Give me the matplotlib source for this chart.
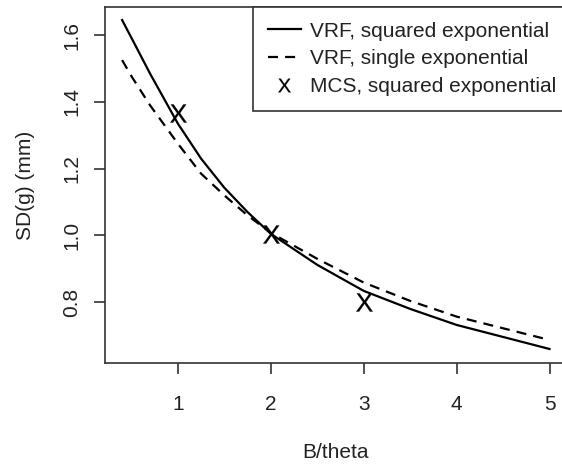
import numpy as np
import matplotlib
matplotlib.use("Agg")
import matplotlib.pyplot as plt

plt.rcParams['font.family'] = ['Liberation Sans', 'DejaVu Sans']
plt.rcParams['mathtext.fontset'] = 'custom'
plt.rcParams['mathtext.rm'] = 'Liberation Sans'

# VRF curves, SD(g) vs B/theta
x_vrf = [0.4, 0.5, 0.7, 1.0, 1.25, 1.5, 1.75, 2.0, 2.5, 3.0, 3.5, 4.0, 5.0]
sd_sq = [1.645, 1.592, 1.485, 1.335, 1.23, 1.143, 1.07, 1.005, 0.912, 0.834, 0.78, 0.732, 0.66]
sd_single = [1.525, 1.477, 1.39, 1.275, 1.185, 1.12, 1.06, 1.008, 0.93, 0.859, 0.804, 0.757, 0.687]

# Monte Carlo points
x_mcs = [1, 2, 3]
sd_mcs = [1.366, 1.004, 0.801]

W, H = 562, 465
fig = plt.figure(figsize=(W / 100, H / 100), dpi=100)
ax = fig.add_axes([105 / W, (H - 363) / H, 461.6 / W, 356 / H])

ax.plot(x_vrf, sd_sq, color='black', lw=1.6, label='VRF, squared exponential')
ax.plot(x_vrf, sd_single, color='black', lw=1.6, dashes=(4.5, 3.2),
        label='VRF, single exponential')
ax.plot(x_mcs, sd_mcs, ls='none', marker=r'$\mathrm{X}$', ms=13, mew=0.2,
        color='black', label='MCS, squared exponential')

ax.set_xlim(0.216, 5.184)
ax.set_ylim(0.618, 1.684)
ax.set_xticks([1, 2, 3, 4, 5])
ax.set_yticks([0.8, 1.0, 1.2, 1.4, 1.6])
ax.set_yticklabels(['0.8', '1.0', '1.2', '1.4', '1.6'], rotation=90, va='center')

for s in ax.spines.values():
    s.set_color('#333333')
    s.set_linewidth(1.2)
ax.tick_params(colors='#333333', labelcolor='#222222', length=8, width=1.2,
               labelsize=15, pad=15)
ax.tick_params(axis='y', pad=9)

ax.set_xlabel('B/theta', fontsize=15, color='#222222', labelpad=21)
ax.set_ylabel('SD(g) (mm)', fontsize=15, color='#222222', labelpad=20)

leg = ax.legend(loc='upper left', bbox_to_anchor=(0.3206, 1.0), borderaxespad=0,
                fontsize=15, fancybox=False, handlelength=1.6, handletextpad=0.45,
                labelspacing=0.42, borderpad=0.7, framealpha=1, markerscale=0.75)
leg.get_frame().set_edgecolor('#333333')
leg.get_frame().set_linewidth(1.2)
for t in leg.get_texts():
    t.set_color('#222222')

fig.savefig('out.png', dpi=100)
